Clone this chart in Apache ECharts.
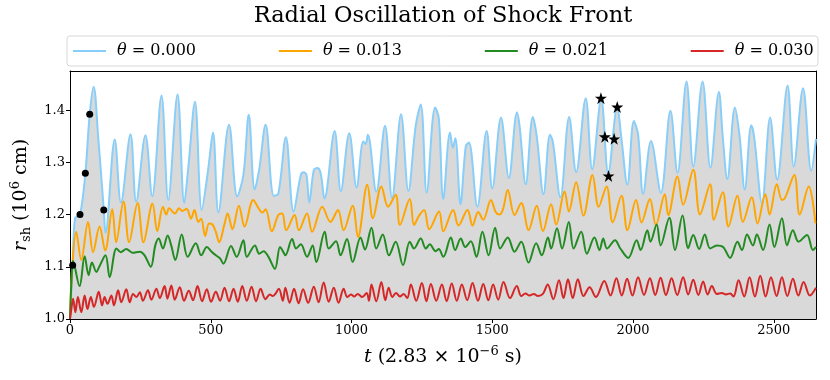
<!DOCTYPE html>
<html><head><meta charset="utf-8">
<script src="https://cdn.jsdelivr.net/npm/echarts@6/dist/echarts.min.js"></script>
<style>html,body{margin:0;padding:0;background:#fff}#c{width:830px;height:380px}</style>
</head><body><div id="c"></div>
<script>
const FONT = 'DejaVu Serif';
const seriesNames = ['θ = 0.000', 'θ = 0.013', 'θ = 0.021', 'θ = 0.030'];
const seriesColors = ['#87CEFA', '#FFA500', '#228B22', '#D62728'];
const xTicks = [0, 500, 1000, 1500, 2000, 2500];
const yTicks = [1.0, 1.1, 1.2, 1.3, 1.4];

const theta000 = [[0,1.0],[9.5,1.103],[18,1.193],[35.5,1.2],[54.5,1.279],[70,1.392],[84,1.445],[100,1.35],[120,1.209],[126,1.165],[159,1.344],[181,1.223],[215,1.354],[235,1.225],[268,1.352],[292,1.235],[325,1.428],[349,1.228],[382,1.43],[406,1.222],[420,1.289],[444,1.416],[468,1.209],[490,1.283],[508,1.357],[527,1.204],[565,1.372],[594,1.235],[616,1.276],[635,1.391],[656,1.248],[672,1.286],[695,1.372],[724,1.236],[740,1.24],[767,1.348],[794,1.206],[820,1.276],[830,1.281],[840,1.276],[850,1.223],[866,1.285],[878,1.289],[890,1.28],[904,1.231],[940,1.36],[962,1.245],[992,1.356],[1018,1.252],[1042,1.34],[1050,1.335],[1058,1.353],[1088,1.244],[1119,1.37],[1144,1.232],[1176,1.392],[1202,1.245],[1228,1.37],[1246,1.411],[1267,1.242],[1297,1.405],[1310,1.385],[1326,1.23],[1350,1.357],[1360,1.328],[1369,1.346],[1387,1.22],[1406,1.331],[1417,1.338],[1447,1.215],[1480,1.36],[1500,1.25],[1531,1.386],[1559,1.27],[1588,1.396],[1597,1.37],[1619,1.258],[1644,1.387],[1658,1.35],[1682,1.239],[1705,1.353],[1715,1.34],[1742,1.233],[1773,1.387],[1798,1.281],[1832,1.423],[1855,1.287],[1887,1.421],[1912,1.279],[1944,1.405],[1958,1.35],[1980,1.257],[2003,1.379],[2018,1.353],[2036,1.24],[2064,1.341],[2099,1.242],[2133,1.399],[2158,1.28],[2190,1.455],[2214,1.292],[2247,1.455],[2275,1.29],[2305,1.435],[2319,1.347],[2335,1.268],[2362,1.405],[2378,1.353],[2397,1.248],[2420,1.371],[2430,1.35],[2458,1.222],[2487,1.386],[2512,1.267],[2549,1.447],[2571,1.292],[2604,1.442],[2633,1.284],[2650,1.345]];

const theta013 = [[0,1.0],[8,1.1],[22,1.167],[40,1.113],[64,1.186],[82,1.128],[105,1.177],[125,1.131],[150,1.21],[164,1.147],[190,1.225],[210,1.147],[240,1.222],[261,1.147],[293,1.221],[310,1.168],[330,1.215],[342,1.2],[352,1.212],[373,1.202],[387,1.212],[399,1.207],[414,1.211],[430,1.192],[442,1.209],[456,1.186],[466,1.192],[480,1.159],[494,1.183],[506,1.181],[518,1.167],[530,1.147],[548,1.18],[560,1.202],[577,1.172],[600,1.217],[620,1.177],[651,1.228],[669,1.213],[683,1.204],[695,1.21],[717,1.168],[740,1.199],[754,1.202],[768,1.17],[798,1.199],[813,1.17],[842,1.202],[860,1.167],[896,1.215],[925,1.186],[952,1.209],[972,1.17],[1004,1.217],[1023,1.157],[1056,1.257],[1076,1.193],[1106,1.254],[1130,1.215],[1157,1.238],[1172,1.18],[1207,1.23],[1222,1.18],[1240,1.198],[1258,1.209],[1276,1.172],[1311,1.206],[1326,1.168],[1361,1.209],[1380,1.179],[1412,1.209],[1430,1.179],[1450,1.205],[1468,1.19],[1495,1.228],[1512,1.205],[1525,1.2],[1538,1.21],[1555,1.247],[1579,1.199],[1603,1.222],[1629,1.17],[1658,1.217],[1680,1.168],[1709,1.22],[1727,1.181],[1757,1.244],[1772,1.206],[1798,1.262],[1824,1.198],[1856,1.276],[1878,1.215],[1906,1.254],[1928,1.185],[1959,1.236],[1980,1.17],[2011,1.228],[2030,1.185],[2060,1.23],[2081,1.18],[2113,1.239],[2125,1.199],[2158,1.273],[2178,1.219],[2214,1.286],[2238,1.2],[2274,1.258],[2287,1.19],[2319,1.243],[2339,1.177],[2371,1.236],[2390,1.186],[2422,1.233],[2442,1.183],[2470,1.239],[2485,1.2],[2511,1.258],[2529,1.228],[2540,1.232],[2573,1.276],[2592,1.2],[2624,1.254],[2648,1.183]];

const theta021 = [[0,1.0],[5,1.07],[11,1.111],[34,1.063],[52,1.12],[66,1.084],[78,1.108],[94,1.09],[104,1.1],[126,1.122],[141,1.08],[165,1.135],[180,1.128],[200,1.134],[222,1.127],[248,1.129],[265,1.122],[287,1.1],[303,1.141],[315,1.154],[330,1.135],[347,1.16],[360,1.14],[374,1.113],[397,1.162],[418,1.119],[447,1.145],[466,1.122],[486,1.138],[503,1.129],[518,1.122],[533,1.116],[545,1.106],[572,1.14],[592,1.119],[616,1.151],[628,1.119],[657,1.141],[672,1.125],[688,1.13],[705,1.119],[728,1.096],[746,1.138],[756,1.13],[765,1.122],[789,1.153],[803,1.135],[820,1.143],[842,1.119],[862,1.141],[875,1.109],[905,1.167],[919,1.135],[945,1.149],[961,1.122],[984,1.153],[1004,1.109],[1032,1.156],[1048,1.133],[1071,1.175],[1088,1.135],[1111,1.162],[1133,1.122],[1157,1.148],[1183,1.103],[1207,1.148],[1222,1.135],[1246,1.154],[1264,1.135],[1278,1.143],[1299,1.13],[1310,1.134],[1326,1.119],[1353,1.156],[1368,1.132],[1388,1.154],[1404,1.138],[1424,1.149],[1444,1.119],[1465,1.167],[1487,1.122],[1510,1.175],[1528,1.135],[1555,1.156],[1579,1.129],[1603,1.148],[1629,1.108],[1656,1.145],[1676,1.122],[1698,1.156],[1709,1.135],[1730,1.174],[1748,1.135],[1772,1.186],[1789,1.135],[1816,1.167],[1836,1.125],[1863,1.156],[1881,1.132],[1894,1.154],[1908,1.135],[1936,1.151],[1955,1.135],[1983,1.117],[2013,1.151],[2027,1.132],[2051,1.17],[2062,1.148],[2084,1.181],[2098,1.141],[2129,1.194],[2149,1.132],[2176,1.198],[2196,1.136],[2214,1.161],[2235,1.134],[2255,1.162],[2274,1.135],[2298,1.141],[2320,1.138],[2345,1.117],[2371,1.148],[2387,1.132],[2405,1.162],[2426,1.141],[2440,1.162],[2462,1.132],[2485,1.181],[2502,1.138],[2529,1.193],[2547,1.141],[2568,1.17],[2588,1.148],[2618,1.161],[2639,1.132],[2650,1.138]];

const theta030 = [[0,1.0],[5,1.02],[11,1.039],[19,1.013],[28,1.042],[40,1.013],[52,1.045],[62,1.019],[74,1.042],[85,1.023],[102,1.052],[114,1.026],[123,1.042],[133,1.029],[147,1.045],[156,1.026],[171,1.055],[182,1.032],[200,1.057],[212,1.032],[224,1.048],[236,1.042],[248,1.051],[259,1.035],[277,1.055],[289,1.037],[307,1.058],[319,1.04],[336,1.063],[346,1.039],[360,1.064],[372,1.037],[390,1.061],[405,1.035],[422,1.054],[437,1.036],[453,1.063],[469,1.034],[486,1.057],[501,1.033],[518,1.052],[533,1.035],[549,1.06],[565,1.034],[581,1.058],[596,1.033],[612,1.063],[628,1.035],[645,1.062],[661,1.034],[677,1.058],[694,1.038],[710,1.047],[720,1.044],[728,1.047],[742,1.058],[756,1.035],[765,1.06],[780,1.031],[796,1.058],[812,1.03],[828,1.057],[846,1.031],[866,1.062],[883,1.032],[901,1.07],[919,1.033],[937,1.06],[954,1.031],[972,1.058],[985,1.042],[998,1.047],[1010,1.043],[1022,1.048],[1038,1.042],[1054,1.05],[1062,1.035],[1071,1.066],[1088,1.034],[1106,1.071],[1120,1.036],[1132,1.06],[1145,1.042],[1158,1.05],[1172,1.043],[1185,1.048],[1198,1.04],[1211,1.066],[1230,1.035],[1250,1.069],[1266,1.034],[1282,1.067],[1301,1.035],[1321,1.066],[1338,1.034],[1356,1.068],[1374,1.035],[1392,1.066],[1411,1.036],[1430,1.069],[1449,1.035],[1468,1.067],[1486,1.036],[1503,1.066],[1521,1.037],[1540,1.071],[1563,1.04],[1587,1.063],[1603,1.044],[1618,1.049],[1632,1.045],[1648,1.048],[1662,1.044],[1680,1.048],[1697,1.066],[1717,1.038],[1737,1.074],[1753,1.04],[1769,1.076],[1786,1.04],[1804,1.076],[1824,1.044],[1846,1.061],[1868,1.042],[1898,1.073],[1920,1.045],[1941,1.078],[1960,1.045],[1979,1.077],[1998,1.045],[2018,1.08],[2039,1.046],[2060,1.078],[2079,1.046],[2098,1.079],[2117,1.046],[2137,1.078],[2157,1.046],[2178,1.08],[2196,1.047],[2214,1.075],[2232,1.046],[2249,1.072],[2265,1.047],[2280,1.063],[2298,1.048],[2315,1.05],[2330,1.047],[2345,1.049],[2357,1.043],[2375,1.074],[2395,1.043],[2414,1.08],[2433,1.043],[2452,1.083],[2471,1.043],[2490,1.08],[2510,1.044],[2529,1.08],[2548,1.044],[2568,1.077],[2587,1.045],[2606,1.071],[2628,1.045],[2650,1.06]];

const dotPoints = [[9.5,1.103],[35.5,1.2],[54.5,1.279],[70,1.392],[120,1.209]];
const starPoints = [[1886,1.423],[1944,1.406],[1900,1.349],[1933,1.345],[1913,1.274]];

const lineData = [theta000, theta013, theta021, theta030];
const STAR = 'path://M50,0 L61.8,35.1 L98.1,35.1 L68.8,56.8 L79.4,91.9 L50,70.2 L20.6,91.9 L31.2,56.8 L1.9,35.1 L38.2,35.1 Z';

const chart = echarts.init(document.getElementById('c'), null, {renderer: 'canvas'});

const series = lineData.map((d, i) => {
  const s = {
    name: seriesNames[i], type: 'line', data: d, smooth: 0.35, showSymbol: false, symbol: 'none',
    lineStyle: {color: seriesColors[i], width: 2}, itemStyle: {color: seriesColors[i]}, z: 3 + i
  };
  if (i === 0) s.areaStyle = {color: '#d9d9d9', opacity: 1, origin: 'start'};
  return s;
});
series.push({type: 'scatter', data: dotPoints, symbol: 'circle', symbolSize: 7, itemStyle: {color: '#000', opacity: 1}, z: 10});
series.push({type: 'scatter', data: starPoints, symbol: STAR, symbolSize: 12, itemStyle: {color: '#000', opacity: 1}, z: 10});

const legends = seriesNames.map((n, i) => ({
  data: [n], left: 73 + 205.9 * i, top: 43, padding: 0, icon: 'rect', itemWidth: 33, itemHeight: 2,
  selectedMode: false, z: 5,
  formatter: nm => '{i|θ}' + nm.slice(1),
  textStyle: {fontFamily: FONT, fontSize: 16, color: '#000',
    rich: {i: {fontFamily: FONT, fontStyle: 'italic', fontSize: 16, color: '#000', padding: [0, 0, 0, 6]}}}
}));

chart.setOption({
  animation: false,
  backgroundColor: '#fff',
  title: {text: 'Radial Oscillation of Shock Front', left: 443, textAlign: 'center', top: 5, padding: 0,
    textStyle: {fontFamily: FONT, fontSize: 22.5, fontWeight: 'normal', color: '#000'}},
  legend: legends,
  graphic: [{type: 'rect', z: 1, shape: {x: 67, y: 36, width: 751, height: 30, r: 3},
    style: {fill: '#fff', stroke: '#d8d8d8', lineWidth: 1}}],
  grid: {left: 70, right: 14, top: 71, bottom: 61, containLabel: false},
  xAxis: [{
    type: 'value', min: 0, max: 2650, position: 'bottom',
    axisLine: {onZero: false, lineStyle: {color: '#000', width: 1}},
    axisTick: {show: true, length: 4, lineStyle: {color: '#000'}, customValues: xTicks},
    axisLabel: {customValues: xTicks, formatter: v => String(v), fontFamily: FONT, fontSize: 13, color: '#000', margin: 5},
    splitLine: {show: false},
    name: '{i|t} (2.83 × 10{sup|−6} s)', nameLocation: 'middle', nameGap: 26,
    nameTextStyle: {fontFamily: FONT, fontSize: 19, color: '#000', lineHeight: 24,
      rich: {i: {fontFamily: FONT, fontStyle: 'italic', fontSize: 19, color: '#000', lineHeight: 24},
             sup: {fontFamily: FONT, fontSize: 13, color: '#000', lineHeight: 13, verticalAlign: 'top'}}}
  }, {
    type: 'value', min: 0, max: 2650, position: 'top',
    axisLine: {onZero: false, lineStyle: {color: '#000', width: 1}},
    axisTick: {show: false}, axisLabel: {show: false}, splitLine: {show: false}
  }],
  yAxis: [{
    type: 'value', min: 1.0, max: 1.475, position: 'left',
    axisLine: {show: true, onZero: false, lineStyle: {color: '#000', width: 1}},
    axisTick: {show: true, length: 4, lineStyle: {color: '#000'}, customValues: yTicks},
    axisLabel: {customValues: yTicks, formatter: v => v.toFixed(1), fontFamily: FONT, fontSize: 13, color: '#000', margin: 5},
    splitLine: {show: false},
    name: '{i|r}{sub|sh} (10{sup|6} cm)', nameLocation: 'middle', nameGap: 35, nameRotate: 90,
    nameTextStyle: {fontFamily: FONT, fontSize: 19, color: '#000', lineHeight: 24,
      rich: {i: {fontFamily: FONT, fontStyle: 'italic', fontSize: 19, color: '#000', lineHeight: 24},
             sub: {fontFamily: FONT, fontSize: 13, color: '#000', lineHeight: 13, verticalAlign: 'bottom'},
             sup: {fontFamily: FONT, fontSize: 13, color: '#000', lineHeight: 13, verticalAlign: 'top'}}}
  }, {
    type: 'value', min: 1.0, max: 1.475, position: 'right',
    axisLine: {show: true, onZero: false, lineStyle: {color: '#000', width: 1}},
    axisTick: {show: false}, axisLabel: {show: false}, splitLine: {show: false}
  }],
  series: series
});
</script></body></html>
